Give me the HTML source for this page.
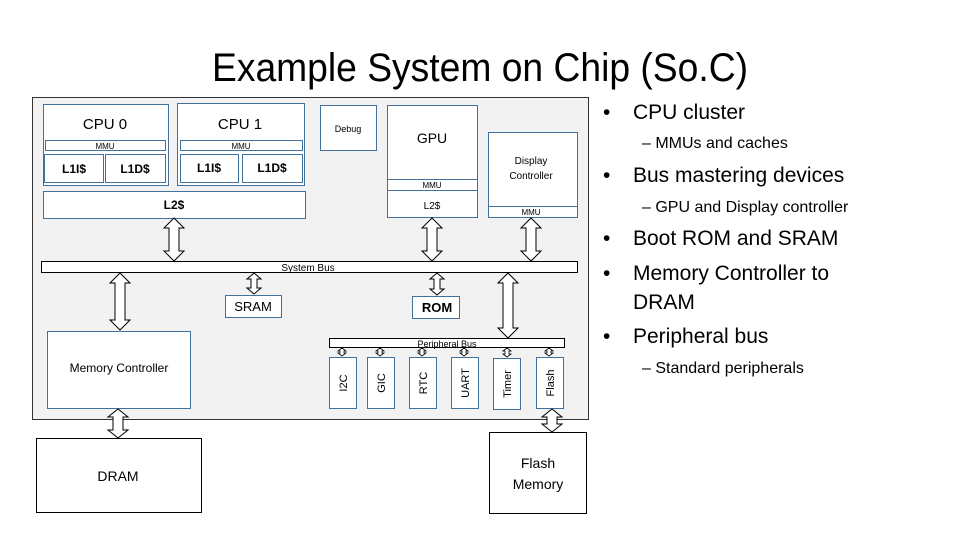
<!DOCTYPE html>
<html><head><meta charset="utf-8"><style>
html,body{margin:0;padding:0;background:#fff;width:960px;height:540px;overflow:hidden}
svg{display:block}
text{font-family:"Liberation Sans",sans-serif;fill:#000}
</style></head><body>
<svg width="960" height="540" viewBox="0 0 960 540">
<text x="480" y="81" font-size="40" text-anchor="middle" textLength="536" lengthAdjust="spacingAndGlyphs">Example System on Chip (So.C)</text>
<rect x="32.5" y="97.5" width="556" height="322" fill="#f2f2f2" stroke="#333" stroke-width="1"/>
<g fill="#fff" stroke="#41719c" stroke-width="1">
<rect x="43.5" y="104.5" width="125" height="81"/>
<rect x="45.5" y="140.5" width="120" height="10"/>
<rect x="44.5" y="154.5" width="59" height="28"/>
<rect x="105.5" y="154.5" width="60" height="28"/>
<rect x="177.5" y="103.5" width="127" height="82"/>
<rect x="180.5" y="140.5" width="122" height="10"/>
<rect x="180.5" y="154.5" width="58" height="28"/>
<rect x="242.5" y="154.5" width="60" height="28"/>
<rect x="43.5" y="191.5" width="262" height="27"/>
<rect x="320.5" y="105.5" width="56" height="45"/>
<rect x="387.5" y="105.5" width="90" height="112"/>
<rect x="387.5" y="179.5" width="90" height="11"/>
<rect x="488.5" y="132.5" width="89" height="85"/>
<rect x="488.5" y="206.5" width="89" height="11"/>
<rect x="225.5" y="295.5" width="56" height="22"/>
<rect x="412.5" y="296.5" width="47" height="22"/>
<rect x="47.5" y="331.5" width="143" height="77"/>
<rect x="329.5" y="357.5" width="27" height="51"/>
<rect x="367.5" y="357.5" width="27" height="51"/>
<rect x="409.5" y="357.5" width="27" height="51"/>
<rect x="451.5" y="357.5" width="27" height="51"/>
<rect x="493.5" y="358.5" width="27" height="51"/>
<rect x="536.5" y="357.5" width="27" height="51"/>
</g>
<g fill="#fff" stroke="#000" stroke-width="1">
<rect x="41.5" y="261.5" width="536" height="11"/>
<rect x="329.5" y="338.5" width="235" height="9"/>
<rect x="36.5" y="438.5" width="165" height="74"/>
<rect x="489.5" y="432.5" width="97" height="81"/>
<polygon points="174,218 184,228 179,228 179,251 184,251 174,261 164,251 169,251 169,228 164,228"/>
<polygon points="432,218 442,228 437,228 437,251 442,251 432,261 422,251 427,251 427,228 422,228"/>
<polygon points="531,218 541,228 536,228 536,251 541,251 531,261 521,251 526,251 526,228 521,228"/>
<polygon points="120,273 130,283 125,283 125,320 130,320 120,330 110,320 115,320 115,283 110,283"/>
<polygon points="254,273 261,279 257,279 257,288 261,288 254,294 247,288 251,288 251,279 247,279"/>
<polygon points="437,273 444,279 440,279 440,289 444,289 437,295 430,289 434,289 434,279 430,279"/>
<polygon points="508,273 518,283 513,283 513,328 518,328 508,338 498,328 503,328 503,283 498,283"/>
<polygon points="118,409 128,417 123,417 123,430 128,430 118,438 108,430 113,430 113,417 108,417"/>
<polygon points="552,409 562,417 557,417 557,424 562,424 552,432 542,424 547,424 547,417 542,417"/>
<g stroke-width="0.8">
<polygon points="342,348 346,351 344,351 344,353 346,353 342,356 338,353 340,353 340,351 338,351"/>
<polygon points="380,348 384,351 382,351 382,353 384,353 380,356 376,353 378,353 378,351 376,351"/>
<polygon points="422,348 426,351 424,351 424,353 426,353 422,356 418,353 420,353 420,351 418,351"/>
<polygon points="464,348 468,351 466,351 466,353 468,353 464,356 460,353 462,353 462,351 460,351"/>
<polygon points="507,348 511,351 509,351 509,354 511,354 507,357 503,354 505,354 505,351 503,351"/>
<polygon points="549,348 553,351 551,351 551,353 553,353 549,356 545,353 547,353 547,351 545,351"/>
</g>
</g>
<g text-anchor="middle">
<text x="105" y="129" font-size="15">CPU 0</text>
<text x="240" y="129" font-size="15">CPU 1</text>
<text x="105" y="149" font-size="8">MMU</text>
<text x="241" y="149" font-size="8">MMU</text>
<text x="74" y="173" font-size="12" font-weight="bold">L1I$</text>
<text x="135" y="173" font-size="12" font-weight="bold">L1D$</text>
<text x="209" y="172" font-size="12" font-weight="bold">L1I$</text>
<text x="272" y="172" font-size="12" font-weight="bold">L1D$</text>
<text x="174" y="209" font-size="12" font-weight="bold">L2$</text>
<text x="348" y="132" font-size="9">Debug</text>
<text x="432" y="143" font-size="14">GPU</text>
<text x="432" y="188" font-size="8">MMU</text>
<text x="432" y="209" font-size="10">L2$</text>
<text x="531" y="164" font-size="10">Display</text>
<text x="531" y="179" font-size="10">Controller</text>
<text x="531" y="215" font-size="8">MMU</text>
<text x="308" y="271" font-size="10">System Bus</text>
<text x="253" y="311" font-size="13">SRAM</text>
<text x="437" y="312" font-size="13" font-weight="bold">ROM</text>
<text x="447" y="347" font-size="9">Peripheral Bus</text>
<text x="119" y="372" font-size="12">Memory Controller</text>
<text x="118" y="481" font-size="14">DRAM</text>
<text x="538" y="468" font-size="14">Flash</text>
<text x="538" y="489" font-size="14">Memory</text>
<text transform="translate(347,383) rotate(-90)" font-size="11">I2C</text>
<text transform="translate(385,383) rotate(-90)" font-size="11">GIC</text>
<text transform="translate(427,383) rotate(-90)" font-size="11">RTC</text>
<text transform="translate(469,383) rotate(-90)" font-size="11">UART</text>
<text transform="translate(511,384) rotate(-90)" font-size="11">Timer</text>
<text transform="translate(554,383) rotate(-90)" font-size="11">Flash</text>
</g>
<g font-size="21">
<text x="603" y="119">•</text><text x="633" y="119">CPU cluster</text>
<text x="603" y="182">•</text><text x="633" y="182">Bus mastering devices</text>
<text x="603" y="245">•</text><text x="633" y="245">Boot ROM and SRAM</text>
<text x="603" y="280">•</text><text x="633" y="280">Memory Controller to</text>
<text x="633" y="309">DRAM</text>
<text x="603" y="343">•</text><text x="633" y="343">Peripheral bus</text>
</g>
<g font-size="16">
<text x="642" y="148">–  MMUs and caches</text>
<text x="642" y="212">–  GPU and Display controller</text>
<text x="642" y="373">–  Standard peripherals</text>
</g>
</svg>
</body></html>
